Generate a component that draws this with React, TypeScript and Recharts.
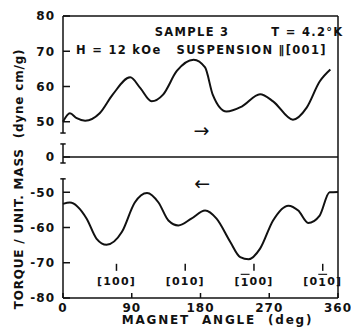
import React from "react"
import { LineChart, Line, XAxis, YAxis, ReferenceLine, ReferenceDot } from "recharts"

// magnet rotating one way (upper branch) and back (lower branch)
const upperAngle = [0, 9, 18, 29, 48, 65, 88, 101, 116, 131, 149, 171, 186, 196, 214, 234, 258, 275, 301, 319, 336, 350]
const upperTorque = [50.0, 52.4, 51.0, 50.3, 52.4, 57.7, 62.6, 59.6, 55.8, 57.7, 64.4, 67.6, 65.4, 57.7, 52.9, 54.3, 57.8, 55.8, 50.6, 54.0, 61.4, 64.8]
const lowerAngle = [0, 9, 31, 44, 57, 77, 94, 110, 125, 138, 151, 168, 186, 201, 219, 232, 243, 258, 275, 295, 308, 321, 336, 349, 360]
const lowerTorque = [-53.3, -52.9, -57.5, -63.2, -64.9, -61.3, -52.9, -50.2, -52.9, -58.0, -59.4, -57.5, -55.2, -57.5, -64.1, -68.4, -69.0, -66.0, -58.0, -53.8, -55.2, -58.7, -56.6, -50.0, -49.9]

const torqueTicks = [80, 70, 60, 50, 0, -50, -60, -70, -80]
const angleTicks = [0, 90, 180, 270, 360]
const dirAngles = [70, 160, 250, 340]
// [before, barred digit, after]
const dirLabels = [
	["[100]", "", ""],
	["[010]", "", ""],
	["[", "1", "00]"],
	["[0", "1", "0]"],
]

// broken axis: 50..80 and -50..-80 are squeezed against 0
const toAxis = (v: number) => (v > 25 ? v - 40 : v < -25 ? v + 40 : v)
const fromAxis = (d: number) => (d > 5 ? d + 40 : d < -5 ? d - 40 : 0)

const upperData = upperAngle.map((a, i) => ({ angle: a, y: toAxis(upperTorque[i]) }))
const lowerData = lowerAngle.map((a, i) => ({ angle: a, y: toAxis(lowerTorque[i]) }))

const font = "'DejaVu Sans', sans-serif"
const ink = "#111"

// breaks in the left axis, in axis units
const leftAxisParts = [
	[40, 6.8],
	[3.7, -1.7],
	[-6.2, -40],
]
const breakEnds = [6.8, 3.7, -1.7, -6.2]

const notes = [
	{ text: "SAMPLE 3", angle: 169, y: 35.5 },
	{ text: "T = 4.2°K", angle: 320, y: 35.5 },
	{ text: "H = 12 kOe", angle: 73, y: 30.4 },
	{ text: "SUSPENSION \u2225[001]", angle: 247, y: 30.4 },
]
const arrows = [
	{ text: "\u2192", angle: 182, y: 7.7 },
	{ text: "\u2190", angle: 183, y: -7.4 },
]

const textShape = (text: string, size = 11.5, weight = 700) => (p: any) => (
	<text
		x={p.cx}
		y={p.cy}
		textAnchor="middle"
		dominantBaseline="central"
		fill={ink}
		fontSize={size}
		fontWeight={weight}
		fontFamily={font}
		letterSpacing={1.3}
	>
		{text}
	</text>
)

const dirShape = (parts: string[]) => (p: any) => (
	<text
		x={p.cx}
		y={p.cy}
		textAnchor="middle"
		dominantBaseline="central"
		fill={ink}
		fontSize={11}
		fontWeight={700}
		fontFamily={font}
		letterSpacing={1.2}
	>
		{parts[0]}
		{parts[1] && <tspan style={{ textDecoration: "overline" }}>{parts[1]}</tspan>}
		{parts[2]}
	</text>
)

export default function App() {
	return (
		<div style={{ position: "absolute", left: 0, top: 0, width: 351, height: 331, background: "#fff", fontFamily: font, letterSpacing: 1 }}>
			<LineChart width={351} height={331} margin={{ top: 15, right: 12, bottom: 0, left: 0 }}>
				<XAxis
					dataKey="angle"
					type="number"
					domain={[0, 360]}
					ticks={angleTicks}
					allowDuplicatedCategory={false}
					height={33}
					stroke={ink}
					strokeWidth={1.5}
					tickSize={-5}
					tickMargin={10}
					tick={{ fill: ink, fontSize: 12, fontWeight: 700 }}
					label={{
						content: (p: any) => (
							<text
								x={p.viewBox.x + p.viewBox.width / 2 + 17}
								y={p.viewBox.y + 26}
								textAnchor="middle"
								fill={ink}
								fontSize={12}
								fontWeight={700}
								letterSpacing={1.8}
								style={{ whiteSpace: "pre" }}
							>
								{"MAGNET  ANGLE  (deg)"}
							</text>
						),
					}}
				/>
				<XAxis
					xAxisId="top"
					orientation="top"
					type="number"
					domain={[0, 360]}
					ticks={angleTicks}
					height={1}
					stroke={ink}
					strokeWidth={1.5}
					tickSize={-5}
					tick={false}
				/>
				<YAxis
					type="number"
					domain={[-40, 40]}
					ticks={torqueTicks.map(toAxis)}
					width={63}
					axisLine={false}
					stroke={ink}
					strokeWidth={1.5}
					tickSize={-7}
					tickMargin={15}
					tickFormatter={(d: number) => String(fromAxis(d))}
					tick={{ fill: ink, fontSize: 12, fontWeight: 700 }}
					label={{
						content: (p: any) => {
							const x = p.viewBox.x + 19
							const y = p.viewBox.y + p.viewBox.height / 2 + 22
							return (
								<text
									x={x}
									y={y}
									transform={`rotate(-90 ${x} ${y})`}
									textAnchor="middle"
									dominantBaseline="central"
									fill={ink}
									fontSize={12}
									fontWeight={700}
									letterSpacing={0.8}
									style={{ whiteSpace: "pre" }}
								>
									{"TORQUE / UNIT. MASS  (dyne cm/g)"}
								</text>
							)
						},
					}}
				/>
				<YAxis
					yAxisId="right"
					orientation="right"
					type="number"
					domain={[-40, 40]}
					ticks={torqueTicks.map(toAxis)}
					width={1}
					stroke={ink}
					strokeWidth={1.5}
					tickSize={-6}
					tick={false}
				/>
				<ReferenceLine y={0} stroke={ink} strokeWidth={1.5} />
				{leftAxisParts.map(([a, b], i) => (
					<ReferenceLine
						key={`ax${i}`}
						segment={[
							{ x: 0, y: a },
							{ x: 0, y: b },
						]}
						stroke={ink}
						strokeWidth={1.5}
						ifOverflow="visible"
					/>
				))}
				{breakEnds.map((b, i) => (
					<ReferenceLine
						key={`br${i}`}
						segment={[
							{ x: -3.5, y: b },
							{ x: 3.5, y: b },
						]}
						stroke={ink}
						strokeWidth={1.5}
						ifOverflow="visible"
					/>
				))}
				{dirAngles.map((a, i) => (
					<ReferenceLine
						key={`dt${i}`}
						segment={[
							{ x: a, y: -30.3 },
							{ x: a, y: -32.3 },
						]}
						stroke={ink}
						strokeWidth={1.5}
						ifOverflow="visible"
					/>
				))}
				{dirAngles.map((a, i) => (
					<ReferenceDot key={`dl${i}`} x={a} y={-35.4} r={0} ifOverflow="visible" shape={dirShape(dirLabels[i])} />
				))}
				{notes.map((n, i) => (
					<ReferenceDot key={`n${i}`} x={n.angle} y={n.y} r={0} ifOverflow="visible" shape={textShape(n.text)} />
				))}
				{arrows.map((n, i) => (
					<ReferenceDot key={`a${i}`} x={n.angle} y={n.y} r={0} ifOverflow="visible" shape={textShape(n.text, 19, 400)} />
				))}
				<Line
					data={upperData}
					dataKey="y"
					type="monotone"
					stroke={ink}
					strokeWidth={2}
					dot={false}
					isAnimationActive={false}
				/>
				<Line
					data={lowerData}
					dataKey="y"
					type="monotone"
					stroke={ink}
					strokeWidth={2}
					dot={false}
					isAnimationActive={false}
				/>
			</LineChart>
		</div>
	)
}
